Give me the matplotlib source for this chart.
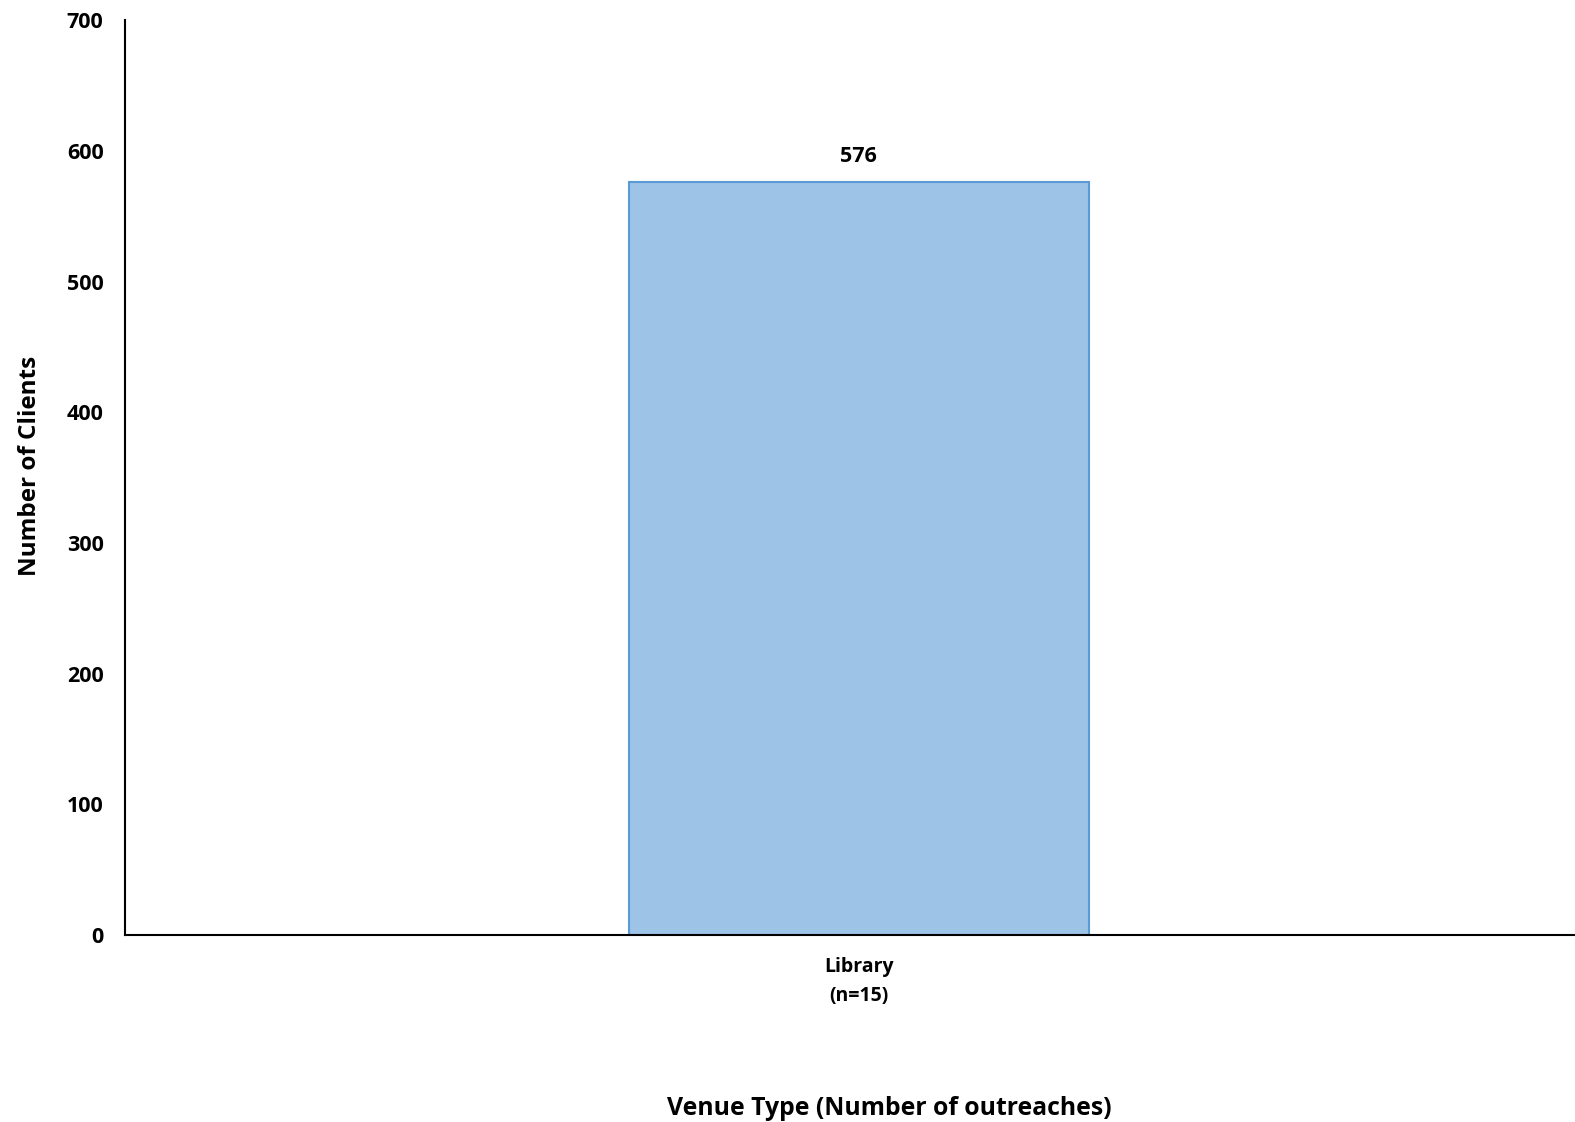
import matplotlib.pyplot as plt

plt.rcParams['font.family'] = ['Open Sans', 'DejaVu Sans']
plt.rcParams['font.weight'] = 'bold'

venues = ['Library\n(n=15)']
clients = [576]
yticks = [0, 100, 200, 300, 400, 500, 600, 700]

fig = plt.figure(figsize=(15.75, 11.22), dpi=100)
ax = fig.add_axes([0.0794, 0.1667, 0.9206, 0.8153])

bars = ax.bar(range(len(venues)), clients, width=0.317,
              color='#9DC3E6', edgecolor='#5B9BD5', linewidth=1.5)
for b, v in zip(bars, clients):
    ax.text(b.get_x() + b.get_width() / 2, v + 12, str(v),
            ha='center', va='bottom', fontsize=15.5, fontweight='bold')

ax.set_xlim(-0.506, 0.494)
ax.set_ylim(0, 700)
ax.set_yticks(yticks)
ax.set_xticks(range(len(venues)))
ax.set_xticklabels(venues, fontsize=14, fontweight='bold', linespacing=1.6)
ax.tick_params(axis='y', length=0, labelsize=15.5, pad=15.5)
ax.tick_params(axis='x', length=0, pad=16)

ax.spines['top'].set_visible(False)
ax.spines['right'].set_visible(False)
ax.spines['left'].set_linewidth(1.5)
ax.spines['bottom'].set_linewidth(1.5)

ax.set_ylabel('Number of Clients', fontsize=17.5, fontweight='bold')
ax.yaxis.set_label_coords(-0.057, 0.513)
fig.text(0.5645, 0.012, 'Venue Type (Number of outreaches)', fontsize=17.8,
         fontweight='bold', ha='center', va='center')

fig.savefig('out.png', dpi=100)
